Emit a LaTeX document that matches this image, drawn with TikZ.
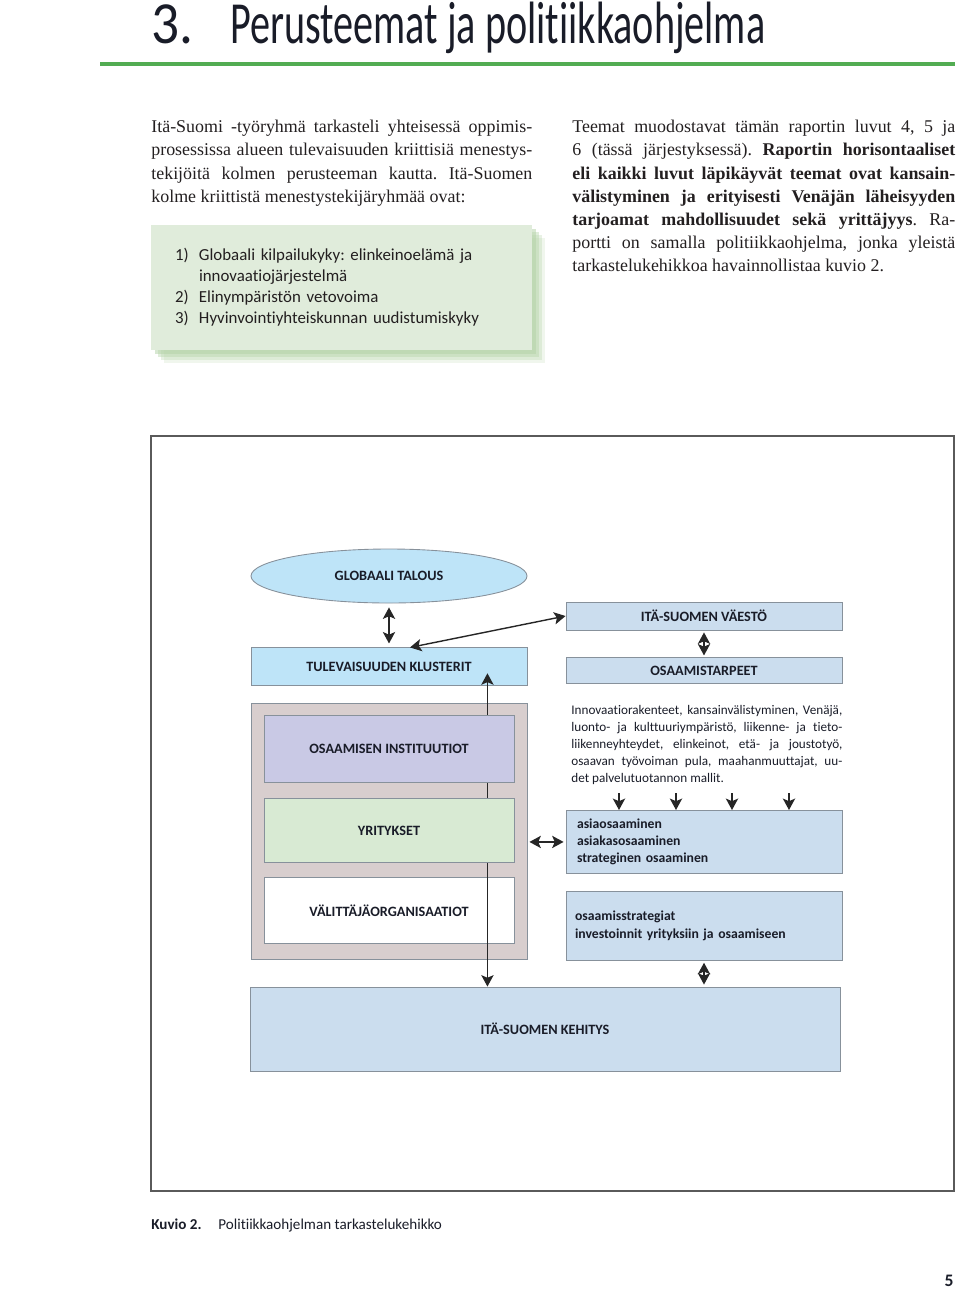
\documentclass[tikz,border=0pt]{standalone}
\usepackage{fontspec}
\usepackage{graphicx}
\setmainfont{Liberation Serif}
\newfontfamily\diafont[Ligatures=NoCommon]{Carlito}
\usetikzlibrary{positioning, calc, arrows.meta, shapes.geometric, shadows}
\frenchspacing
\hyphenpenalty=10000\relax
\tolerance=2000\relax

\definecolor{rulegreen}{RGB}{82,172,82}
\definecolor{greenbox}{RGB}{224,236,219}
\definecolor{shadowgreen}{RGB}{178,210,165}
\definecolor{skyblue}{RGB}{190,228,248}
\definecolor{steelblue}{RGB}{203,221,238}
\definecolor{lavender}{RGB}{201,201,229}
\definecolor{mint}{RGB}{216,234,211}
\definecolor{graybox}{RGB}{216,206,206}
\definecolor{boxline}{RGB}{135,145,155}
\definecolor{frameline}{RGB}{90,90,90}
\definecolor{labelink}{RGB}{25,28,40}
\definecolor{bodyink}{RGB}{35,31,32}

\newcommand{\nro}[1]{\makebox[0.48cm][l]{#1}}

\begin{document}
\begin{tikzpicture}
\tikzset{
    bodytext/.style={
        anchor=north west,
        inner sep=0pt,
        align=justify,
        text=bodyink,
        font=\fontsize{10.2}{13.2}\selectfont,
    },
    box/.style={
        draw=boxline,
        line width=0.5pt,
        minimum width=5.52cm,
        inner sep=0pt,
        text=labelink,
        font=\diafont\bfseries\fontsize{8.1}{9.7}\selectfont,
    },
    listbox/.style={
        box,
        align=left,
        text width=5.08cm,
        inner xsep=0.22cm,
        font=\diafont\bfseries\fontsize{7.8}{9.7}\selectfont,
    },
    itembox/.style={
        fill=greenbox,
        minimum width=7.62cm,
        minimum height=2.5cm,
        text width=6.66cm,
        inner xsep=0.48cm,
        align=left,
        text=bodyink,
        font=\diafont\fontsize{9.6}{12}\selectfont,
        general shadow={shadow xshift=0.26cm, shadow yshift=-0.26cm, fill=shadowgreen, opacity=.2},
        general shadow={shadow xshift=0.20cm, shadow yshift=-0.20cm, fill=shadowgreen, opacity=.3},
        general shadow={shadow xshift=0.14cm, shadow yshift=-0.14cm, fill=shadowgreen, opacity=.4},
        general shadow={shadow xshift=0.08cm, shadow yshift=-0.08cm, fill=shadowgreen, opacity=.5},
    },
    link/.style={
        <->,
        line width=0.8pt,
        black!85,
    },
    >={Stealth[length=6.5pt, width=7pt, inset=1.5pt]},
}
    \useasboundingbox (0,0) rectangle (19.2,-25.8);

    % heading
    \node[anchor=base west, inner sep=0pt, text=labelink, font=\diafont\fontsize{34}{34}\selectfont] (nro) at (3.02,-0.86) {\resizebox{0.84cm}{\height}{3.}};
    \node[anchor=base west, inner sep=0pt, text=labelink, font=\diafont\fontsize{34}{34}\selectfont] (otsikko) at (4.60,-0.86) {\resizebox{10.70cm}{\height}{Perusteemat ja politiikkaohjelma}};
    \draw[rulegreen, line width=0.08cm] (2.00,-1.28) -- (19.10,-1.28);

    % text columns
    \node[bodytext, text width=7.62cm] (alku) at (3.02,-2.40) {Itä-Suomi -työryhmä tarkasteli yhteisessä oppimis-\linebreak prosessissa alueen tulevaisuuden kriittisiä menestys-\linebreak tekijöitä kolmen perusteeman kautta. Itä-Suomen\linebreak kolme kriittistä menestystekijäryhmää ovat:};
    \node[bodytext, text width=7.66cm] (teemaluvut) at (11.44,-2.40) {Teemat muodostavat tämän raportin luvut 4, 5 ja\linebreak 6 (tässä järjestyksessä). \textbf{Raportin horisontaaliset\linebreak eli kaikki luvut läpikäyvät teemat ovat kansain-\linebreak välistyminen ja erityisesti Venäjän läheisyyden\linebreak tarjoamat mahdollisuudet sekä yrittäjyys}. Ra-\linebreak portti on samalla politiikkaohjelma, jonka yleistä\linebreak tarkastelukehikkoa havainnollistaa kuvio 2.};

    \node[itembox] (teemat) at (6.83,-5.75) {\nro{1)}Globaali kilpailukyky: elinkeinoelämä ja\\\hspace*{0.48cm}innovaatiojärjestelmä\\\nro{2)}Elinympäristön vetovoima\\\nro{3)}Hyvinvointiyhteiskunnan uudistumiskyky};

    % figure frame
    \draw[frameline, line width=0.7pt] (3.02,-8.72) rectangle (19.08,-23.82);

    % left column
    \node[box, ellipse, fill=skyblue, minimum height=1.08cm] (talous) at (7.78,-11.52) {GLOBAALI TALOUS};
    \node[box, fill=skyblue, minimum height=0.76cm] (klusterit) [below=0.88cm of talous] {TULEVAISUUDEN KLUSTERIT};
    \node[box, fill=graybox, minimum height=5.12cm] (toimijat) [below=0.34cm of klusterit] {};
    \node[box, fill=white, minimum width=5cm, minimum height=1.32cm, anchor=south] (valittajat) at ($(toimijat.south)+(0,0.32)$) {VÄLITTÄJÄORGANISAATIOT};
    \coordinate (nousu) at ($(klusterit.south east)+(-0.80,0.26)$);

    % right column
    \node[box, fill=steelblue, minimum height=0.56cm] (vaesto) at (14.08,-12.32) {ITÄ-SUOMEN VÄESTÖ};
    \node[box, fill=steelblue, minimum height=0.52cm] (tarpeet) [below=0.54cm of vaesto] {OSAAMISTARPEET};
    \node[anchor=north west, inner sep=0pt, text width=5.42cm, align=justify, text=labelink, font=\diafont\fontsize{7.5}{9.7}\selectfont] (tekijat) at (11.42,-14.10) {Innovaatiorakenteet, kansainvälistyminen, Venäjä,\linebreak luonto- ja kulttuuriympäristö, liikenne- ja tieto-\linebreak liikenneyhteydet, elinkeinot, etä- ja joustotyö,\linebreak osaavan työvoiman pula, maahanmuuttajat, uu-\linebreak det palvelutuotannon mallit.};
    \node[listbox, fill=steelblue, minimum height=1.26cm, anchor=north] (osaaminen) at (14.08,-16.20) {asiaosaaminen\\asiakasosaaminen\\strateginen osaaminen};
    \node[listbox, fill=steelblue, minimum height=1.38cm, inner xsep=0.18cm, text width=5.16cm] (strategiat) [below=0.34cm of osaaminen] {osaamisstrategiat\\investoinnit yrityksiin ja osaamiseen};
    \node[box, fill=steelblue, minimum width=11.8cm, minimum height=1.68cm] (kehitys) at (10.90,-20.58) {ITÄ-SUOMEN KEHITYS};

    % arrows
    \draw[link] (nousu) -- (nousu |- kehitys.north);
    \node[box, fill=lavender, minimum width=5cm, minimum height=1.34cm, anchor=north] (instituutiot) at ($(toimijat.north)+(0,-0.24)$) {OSAAMISEN INSTITUUTIOT};
    \node[box, fill=mint, minimum width=5cm, minimum height=1.28cm] (yritykset) [below=0.30cm of instituutiot] {YRITYKSET};

    \draw[link, shorten >=0.08cm, shorten <=0.08cm] (talous) -- (klusterit);
    \draw[link] ([xshift=0.42cm]klusterit.north) -- (vaesto.west);
    \draw[link, shorten >=0.04cm, shorten <=0.04cm] (vaesto) -- (tarpeet);
    \draw[link, shorten >=0.04cm, shorten <=0.04cm] (toimijat.east |- osaaminen.west) -- (osaaminen.west);
    \draw[link, shorten >=0.04cm, shorten <=0.04cm] (strategiat) -- (strategiat |- kehitys.north);

    \draw[link, <-] ([xshift=-1.70cm]osaaminen.north) -- ++(0,0.34);
    \draw[link, <-] ([xshift=-0.56cm]osaaminen.north) -- ++(0,0.34);
    \draw[link, <-] ([xshift=0.56cm]osaaminen.north) -- ++(0,0.34);
    \draw[link, <-] ([xshift=1.70cm]osaaminen.north) -- ++(0,0.34);

    % caption
    \node[anchor=base west, inner sep=0pt, text=labelink, font=\diafont\bfseries\fontsize{8.6}{10}\selectfont] (kuvio) at (3.02,-24.58) {Kuvio 2.};
    \node[anchor=base west, inner sep=0pt, text=labelink, font=\diafont\fontsize{8.6}{10}\selectfont] (kuvateksti) at (4.36,-24.58) {Politiikkaohjelman tarkastelukehikko};
    \node[inner sep=0pt, text=labelink, font=\diafont\bfseries\fontsize{10}{12}\selectfont] (sivu) at (18.98,-25.62) {5};

\end{tikzpicture}
\end{document}
